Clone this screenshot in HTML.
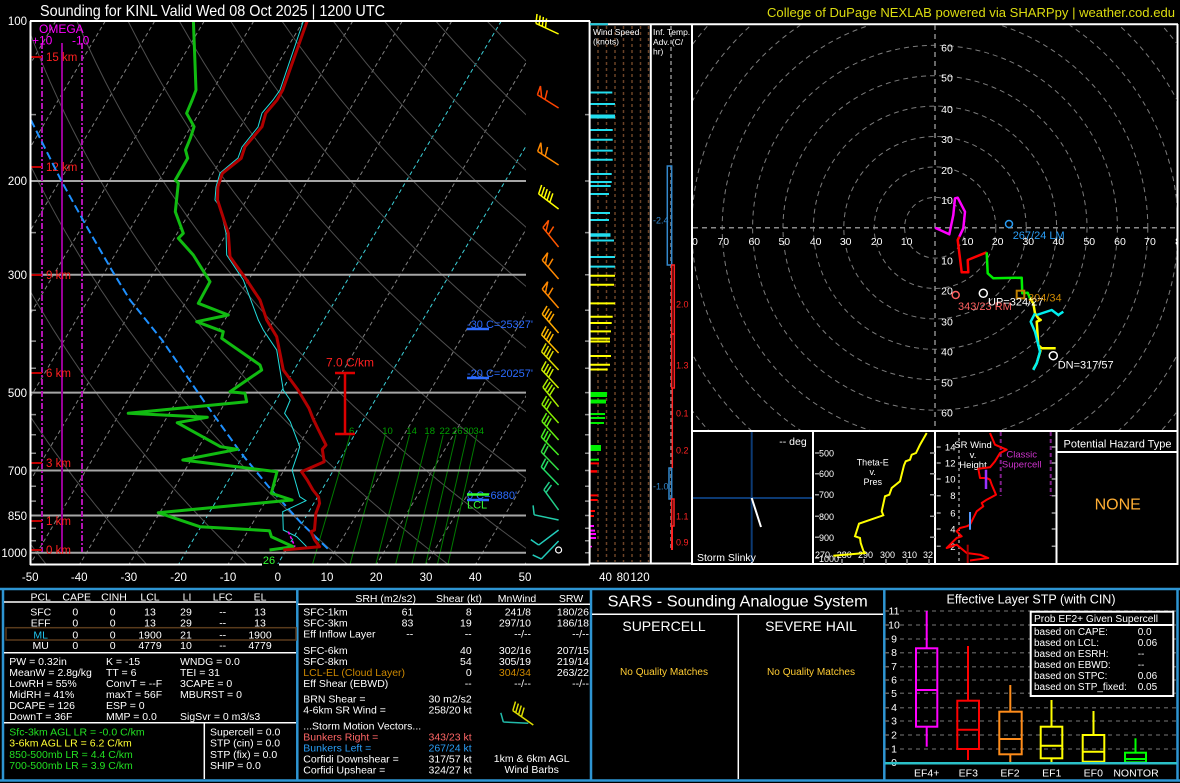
<!DOCTYPE html>
<html><head><meta charset="utf-8">
<style>
html,body{margin:0;padding:0;background:#000;}
svg{display:block}
text{font-family:"Liberation Sans",Arial,sans-serif;}
</style></head>
<body>
<svg xmlns="http://www.w3.org/2000/svg" xmlns:xlink="http://www.w3.org/1999/xlink" width="1180" height="783" viewBox="0 0 1180 783">
<defs>
 <clipPath id="skc"><rect x="31" y="22" width="495" height="542"/></clipPath>
 <clipPath id="hc"><rect x="693" y="25" width="484" height="405"/></clipPath>
 <g id="b1" fill="none"><path d="M0,0H-25M-25,0l-3,-9"/></g>
 <g id="b2" fill="none"><path d="M0,0H-25M-25,0l-3,-9M-21.5,0l-3,-9"/></g>
 <g id="b3" fill="none"><path d="M0,0H-25M-25,0l-3,-9M-21.5,0l-3,-9M-18,0l-3,-9"/></g>
 <g id="b4" fill="none"><path d="M0,0H-25M-25,0l-3,-9M-21.5,0l-3,-9M-18,0l-3,-9M-14.5,0l-3,-9"/></g>
 <g id="b5" fill="none"><path d="M0,0H-25M-25,0l-3,-9M-21.5,0l-3,-9M-18,0l-3,-9M-14.5,0l-3,-9M-11,0l-3,-9"/></g>
 <g id="f1" fill="none"><path d="M0,0H-25M-25,0L-27,-9L-20,0M-16,0l-3,-9"/></g>
</defs>
<rect width="1180" height="783" fill="#000"/>

<!-- ===== SKEW-T BACKGROUND ===== -->
<g clip-path="url(#skc)">
 <g stroke="#808080" stroke-width="1" stroke-dasharray="4,3" fill="none">
  <line x1="55.8" y1="21" x2="-266.7" y2="564"/>
  <line x1="105.3" y1="21" x2="-217.2" y2="564"/>
  <line x1="154.8" y1="21" x2="-167.7" y2="564"/>
  <line x1="204.3" y1="21" x2="-118.2" y2="564"/>
  <line x1="253.8" y1="21" x2="-68.7" y2="564"/>
  <line x1="303.3" y1="21" x2="-19.2" y2="564"/>
  <line x1="352.8" y1="21" x2="30.3" y2="564"/>
  <line x1="402.3" y1="21" x2="79.8" y2="564"/>
  <line x1="451.8" y1="21" x2="129.3" y2="564"/>
  <line x1="550.8" y1="21" x2="228.3" y2="564"/>
  <line x1="649.8" y1="21" x2="327.3" y2="564"/>
  <line x1="699.3" y1="21" x2="376.8" y2="564"/>
  <line x1="748.8" y1="21" x2="426.3" y2="564"/>
  <line x1="798.3" y1="21" x2="475.8" y2="564"/>
  <line x1="847.8" y1="21" x2="525.3" y2="564"/>
 </g>
 <g stroke="#3cd0d8" stroke-width="1" stroke-dasharray="4,3" fill="none">
  <line x1="501.3" y1="21" x2="178.8" y2="564"/>
  <line x1="600.3" y1="21" x2="277.8" y2="564"/>
 </g>
 <g id="dry" stroke="#4e4e4e" stroke-width="1" fill="none"></g>
 <g stroke="#007a00" stroke-width="1" fill="none">
  <line x1="350.2" y1="434.7" x2="312.6" y2="564"/>
  <line x1="385.4" y1="434.7" x2="350.1" y2="564"/>
  <line x1="409.5" y1="434.7" x2="375.9" y2="564"/>
  <line x1="428.1" y1="434.7" x2="395.7" y2="564"/>
  <line x1="443.2" y1="434.7" x2="411.9" y2="564"/>
  <line x1="456.0" y1="434.7" x2="425.7" y2="564"/>
  <line x1="467.1" y1="434.7" x2="437.5" y2="564"/>
  <line x1="476.9" y1="434.7" x2="448.0" y2="564"/>
 </g>
</g>
<g fill="#00a000" font-size="9.5" text-anchor="middle">
 <text x="351.7" y="434">6</text><text x="387.5" y="434">10</text><text x="411.6" y="434">14</text>
 <text x="429.7" y="434">18</text><text x="444.8" y="434">22</text><text x="457.2" y="434">26</text>
 <text x="468.5" y="434">30</text><text x="478.7" y="434">34</text>
</g>
<!-- pressure lines -->
<g stroke="#a6a6a6" stroke-width="2">
 <line x1="31" y1="181" x2="526" y2="181"/>
 <line x1="31" y1="274.7" x2="526" y2="274.7"/>
 <line x1="31" y1="392.6" x2="526" y2="392.6"/>
 <line x1="31" y1="470.5" x2="526" y2="470.5"/>
 <line x1="31" y1="515.5" x2="526" y2="515.5"/>
 <line x1="31" y1="552.7" x2="526" y2="552.7"/>
</g>
<!-- ticks -->
<g stroke="#8c8c8c" stroke-width="1.5">
 <path d="M31,114.6h5M31,232.6h5M31,310.3h5M31,341.1h5M31,368.3h5M31,414.6h5M31,434.7h5M31,453.2h5M31,486.2h5M31,501.1h5M31,528.3h5M31,540.8h5"/>
 <path d="M585,114.6h4M585,181h4M585,232.6h4M585,274.7h4M585,310.3h4M585,341.1h4M585,368.3h4M585,392.6h4M585,414.6h4M585,434.7h4M585,453.2h4M585,470.5h4M585,486.2h4M585,501.1h4M585,515.5h4M585,528.3h4M585,540.8h4M585,552.7h4"/>
</g>
<!-- omega -->
<g fill="none" stroke-width="2">
 <line x1="42" y1="43" x2="42" y2="552" stroke="#b012b0" stroke-dasharray="6,2,2,2"/>
 <line x1="82" y1="43" x2="82" y2="552" stroke="#b012b0" stroke-dasharray="6,2,2,2"/>
 <line x1="62" y1="43" x2="62" y2="552" stroke="#990099"/>
</g>
<g fill="#ff00ff" font-size="12">
 <text x="39" y="33">OMEGA</text>
 <text x="32" y="44.5">+10</text>
 <text x="72" y="44.5">-10</text>
</g>
<!-- height labels -->
<g stroke="#c00000" stroke-width="2">
 <path d="M31,57h11M31,167h11M31,275h11M31,373h11M31,463h11M31,521h11M31,550h11"/>
</g>
<g fill="#ff2020" font-size="11.5">
 <text x="46" y="61">15 km</text>
 <text x="46" y="171">12 km</text>
 <text x="46" y="279">9 km</text>
 <text x="46" y="377">6 km</text>
 <text x="46" y="467">3 km</text>
 <text x="46" y="525">1 km</text>
 <text x="46" y="554">0 km</text>
</g>

<!-- profiles -->
<polyline fill="none" stroke="#1e90ff" stroke-width="2" stroke-dasharray="8,4" points="30.9,120 61.4,181 84.8,223.3 111.7,270 130,300 162,340 205.4,403.3 241.2,453.3 271.4,490 301.5,523.3 329.8,550.7"/>
<polyline fill="none" stroke="#11bb11" stroke-width="3" stroke-linejoin="round" points="193.4,21 196,90 192.2,100 186.6,113.3 194.1,126.7 190.3,138.3 185.5,150 187.7,158.3 175.3,180 178.3,183.3 175.3,211.7 183.3,233.3 178.3,238.3 193.3,255 210,281.7 198.3,303.3 228.3,315 196.7,321.7 223.3,331.7 221.7,338.3 260,365 261.7,370 230,391.7 245,393.3 246.7,401.7 128.2,413.3 207.3,417.3 177.2,422.7 220.5,446.7 237.5,449.3 182.8,460 277,471.7 271.4,493.3 292.1,500 158.3,512.7 199.8,526.7 269.5,530.7 271.4,536.7 293.3,546.7 269.5,550"/>
<polyline fill="none" stroke="#22dddd" stroke-width="1" points="303.4,21 280,90 273,100 262,113 258,127 242,147 238,158 220,173 216,187 215,200 220,206.7 226,233 226.7,255 243.3,280 258.3,320 263.3,330 276.7,350 280,370 283.3,390 290.2,400 284.6,413.3 290.2,421.7 299.7,446.7 297.8,453.3 292.1,470 294,476.7 299.7,496.7 306,500.7 282.7,511.7 283.3,530 296.7,536.7 306.7,546.7"/>
<polyline fill="none" stroke="#b00000" stroke-width="3" stroke-linejoin="round" points="307.2,21 282.7,90 277,100 265.7,113.3 262,126.7 245,146.7 241.2,158.3 222.4,173.3 217.9,186.7 217.5,200 228.3,233.3 230,256.7 246.7,280 260,300 266.7,320 276.7,336.7 283.3,370 298,390 309,408.3 312.9,418.3 318.5,430 326,445 322.3,449.3 324.2,461.7 301.5,471.7 307.2,480 312.9,490 318.5,497 319.6,503.3 315.9,513.3 314.5,530 311,531.7 314.7,540 319.6,546.7 283.3,550"/>
<line x1="288.3" y1="531.7" x2="295" y2="546.7" stroke="#ff00ff" stroke-width="1.5" stroke-dasharray="3,2"/>

<!-- lapse rate bar -->
<g stroke="#dd0000" stroke-width="2.5">
 <line x1="345" y1="373" x2="345" y2="434"/>
 <line x1="335" y1="373" x2="355" y2="373"/>
 <line x1="335" y1="434" x2="355" y2="434"/>
</g>
<text x="350" y="366.5" fill="#ff2020" font-size="12" text-anchor="middle">7.0 C/km</text>
<!-- level labels -->
<g font-size="11" fill="#2b6bff">
 <text x="467" y="328">-30 C=25327'</text>
 <text x="467" y="377">-20 C=20257'</text>
 <text x="467" y="499">0 C=6880'</text>
</g>
<g stroke="#2b6bff" stroke-width="2.5">
 <line x1="467" y1="329" x2="489" y2="329"/>
 <line x1="467" y1="378" x2="489" y2="378"/>
 <line x1="467" y1="500" x2="489" y2="500"/>
</g>
<line x1="467" y1="494.5" x2="489" y2="494.5" stroke="#33ff33" stroke-width="2.5"/>
<text x="467" y="508.5" fill="#33ff33" font-size="11">LCL</text>

<!-- wind barbs -->
<g stroke-width="1.5">
 <use xlink:href="#b4" href="#b4" transform="translate(558.6,34) rotate(25)" stroke="#ffff00"/>
 <use xlink:href="#f1" href="#f1" transform="translate(558.6,108) rotate(32)" stroke="#ff4400"/>
 <use xlink:href="#f1" href="#f1" transform="translate(558.6,165) rotate(33)" stroke="#ff8800"/>
 <use xlink:href="#b5" href="#b5" transform="translate(558.6,209) rotate(37)" stroke="#ffff00"/>
 <use xlink:href="#f1" href="#f1" transform="translate(558.6,247) rotate(51)" stroke="#ff5500"/>
 <use xlink:href="#f1" href="#f1" transform="translate(558.6,279) rotate(49)" stroke="#ff8800"/>
 <use xlink:href="#f1" href="#f1" transform="translate(558.6,308) rotate(49)" stroke="#ff8800"/>
 <use xlink:href="#b4" href="#b4" transform="translate(558.6,333) rotate(49)" stroke="#ffaa00"/>
 <use xlink:href="#b4" href="#b4" transform="translate(558.6,353) rotate(47)" stroke="#ffbb00"/>
 <use xlink:href="#b4" href="#b4" transform="translate(558.6,370) rotate(47)" stroke="#dddd00"/>
 <use xlink:href="#b4" href="#b4" transform="translate(558.6,388) rotate(47)" stroke="#ccee00"/>
 <use xlink:href="#b4" href="#b4" transform="translate(558.6,406.7) rotate(51)" stroke="#aaee00"/>
 <use xlink:href="#b3" href="#b3" transform="translate(558.6,423) rotate(48)" stroke="#88ee00"/>
 <use xlink:href="#b3" href="#b3" transform="translate(558.6,440) rotate(48)" stroke="#66ee11"/>
 <use xlink:href="#b3" href="#b3" transform="translate(558.6,455) rotate(46)" stroke="#44ee22"/>
 <use xlink:href="#b2" href="#b2" transform="translate(558.6,470) rotate(46)" stroke="#33dd44"/>
 <use xlink:href="#b2" href="#b2" transform="translate(558.6,485) rotate(46)" stroke="#22dd66"/>
 <use xlink:href="#b2" href="#b2" transform="translate(558.6,510) rotate(54)" stroke="#22cc88"/>
 <use xlink:href="#b1" href="#b1" transform="translate(558.6,520) rotate(12)" stroke="#22ccaa"/>
 <use xlink:href="#b1" href="#b1" transform="translate(558.6,530) rotate(-37)" stroke="#22ccbb"/>
 <use xlink:href="#b1" href="#b1" transform="translate(558.6,541) rotate(-46)" stroke="#22ccbb"/>
</g>
<circle cx="558.6" cy="550" r="3" fill="none" stroke="#fff" stroke-width="1.2"/>

<!-- frame -->
<g stroke="#fff" stroke-width="2" fill="none">
 <line x1="30" y1="21" x2="590" y2="21"/>
 <line x1="30.5" y1="21" x2="30.5" y2="565"/>
 <line x1="30" y1="564.5" x2="262" y2="564.5"/>
 <line x1="279" y1="564.5" x2="590" y2="564.5"/>
 <line x1="589.6" y1="21" x2="589.6" y2="564"/>
 <line x1="590" y1="24.3" x2="1178" y2="24.3"/>
 <line x1="650.8" y1="24" x2="650.8" y2="564"/>
 <line x1="692" y1="24" x2="692" y2="565"/>
 <line x1="589.6" y1="563.5" x2="692" y2="563.5"/>
 <line x1="1177.5" y1="24" x2="1177.5" y2="565"/>
 <line x1="692" y1="431" x2="1178" y2="431"/>
 <line x1="692" y1="564" x2="1178" y2="564"/>
 <line x1="813" y1="431" x2="813" y2="564"/>
 <line x1="935" y1="431" x2="935" y2="564"/>
 <line x1="1056.5" y1="431" x2="1056.5" y2="564"/>
 <line x1="1056.5" y1="452" x2="1178" y2="452"/>
</g>
<text x="269" y="564" fill="#33ff33" font-size="11" text-anchor="middle">26</text>

<!-- titles -->
<text x="40" y="16" font-size="16" fill="#fff" textLength="345" lengthAdjust="spacingAndGlyphs">Sounding for KINL Valid  Wed 08 Oct 2025 | 1200 UTC</text>
<text x="767" y="17" font-size="13" fill="#dcdc10" font-family="DejaVu Sans, sans-serif" textLength="408" lengthAdjust="spacingAndGlyphs">College of DuPage NEXLAB powered via SHARPpy | weather.cod.edu</text>

<!-- axis labels -->
<g fill="#fff" font-size="11.5" text-anchor="end">
 <text x="27" y="25">100</text>
 <text x="27" y="185">200</text>
 <text x="27" y="279">300</text>
 <text x="27" y="397">500</text>
 <text x="27" y="475">700</text>
 <text x="27" y="520">850</text>
 <text x="27" y="557">1000</text>
</g>
<g fill="#fff" font-size="11.5" text-anchor="middle">
 <text x="30.2" y="581">-50</text><text x="79.2" y="581">-40</text><text x="128.8" y="581">-30</text>
 <text x="178.6" y="581">-20</text><text x="228" y="581">-10</text><text x="277.8" y="581">0</text>
 <text x="327" y="581">10</text><text x="376.1" y="581">20</text><text x="426" y="581">30</text>
 <text x="475.3" y="581">40</text><text x="525" y="581">50</text>
 <text x="605.5" y="581">40</text><text x="623" y="581">80</text><text x="640" y="581">120</text>
</g>

<!-- ===== WIND SPEED PANEL ===== -->
<line x1="590" y1="24.3" x2="608" y2="24.3" stroke="#22ccdd" stroke-width="2"/>
<g stroke="#6b4226" stroke-width="1.5" stroke-dasharray="3,3">
 <line x1="598" y1="26" x2="598" y2="562"/><line x1="606.5" y1="26" x2="606.5" y2="562"/>
 <line x1="615" y1="26" x2="615" y2="562"/><line x1="623.5" y1="26" x2="623.5" y2="562"/>
 <line x1="632" y1="26" x2="632" y2="562"/><line x1="640.5" y1="26" x2="640.5" y2="562"/>
 <line x1="648.5" y1="26" x2="648.5" y2="562"/>
</g>
<g fill="#fff" font-size="8.5">
 <text x="593" y="35">Wind Speed</text>
 <text x="593" y="44.5">(knots)</text>
 <text x="653" y="35">Inf. Temp.</text>
 <text x="653" y="45">Adv. (C/</text>
 <text x="653" y="54.5">hr)</text>
</g>
<g stroke="#22ddee" stroke-width="2">
 <line x1="590.5" y1="92.5" x2="612.3" y2="92.5"/><line x1="590.5" y1="104" x2="615" y2="104"/>
 <line x1="590.5" y1="116.5" x2="615" y2="116.5" stroke-width="4"/><line x1="590.5" y1="130" x2="612.7" y2="130"/>
 <line x1="590.5" y1="139.7" x2="612.7" y2="139.7"/><line x1="590.5" y1="150.6" x2="612.7" y2="150.6"/>
 <line x1="590.5" y1="159.7" x2="612.7" y2="159.7"/><line x1="590.5" y1="174" x2="611.7" y2="174"/>
 <line x1="590.5" y1="182" x2="611.7" y2="182"/><line x1="590.5" y1="186" x2="610.7" y2="186"/>
 <line x1="590.5" y1="194" x2="609" y2="194"/><line x1="590.5" y1="213" x2="610" y2="213"/>
 <line x1="590.5" y1="220" x2="609" y2="220"/><line x1="590.5" y1="235" x2="610.5" y2="235" stroke-width="3.5"/>
 <line x1="590.5" y1="240.5" x2="614" y2="240.5"/><line x1="590.5" y1="257" x2="615" y2="257"/>
 <line x1="590.5" y1="266.6" x2="615" y2="266.6"/>
</g>
<g stroke="#ffff00" stroke-width="2">
 <line x1="590.5" y1="275.7" x2="615" y2="275.7"/><line x1="590.5" y1="284.8" x2="614" y2="284.8"/>
 <line x1="590.5" y1="303.4" x2="615" y2="303.4"/><line x1="590.5" y1="316.8" x2="612.7" y2="316.8"/>
 <line x1="590.5" y1="323" x2="611.7" y2="323"/><line x1="590.5" y1="331.4" x2="611" y2="331.4"/>
 <line x1="590.5" y1="338.6" x2="610" y2="338.6"/><line x1="590.5" y1="341.5" x2="610" y2="341.5"/>
 <line x1="590.5" y1="356" x2="611" y2="356"/><line x1="590.5" y1="364.8" x2="610" y2="364.8"/>
 <line x1="590.5" y1="369.5" x2="607.7" y2="369.5"/>
</g>
<g stroke="#00ee00" stroke-width="2">
 <line x1="590.5" y1="394.5" x2="607" y2="394.5" stroke-width="5"/><line x1="590.5" y1="401.5" x2="606" y2="401.5" stroke-width="4"/>
 <line x1="590.5" y1="414" x2="605" y2="414"/><line x1="590.5" y1="418" x2="605" y2="418"/>
 <line x1="590.5" y1="423" x2="604" y2="423"/><line x1="590.5" y1="448" x2="601" y2="448" stroke-width="6"/>
 <line x1="590.5" y1="459.7" x2="599" y2="459.7"/>
</g>
<g stroke="#ff0000" stroke-width="2">
 <line x1="590.5" y1="463.4" x2="599" y2="463.4"/><line x1="590.5" y1="471.4" x2="597" y2="471.4" stroke-width="2.5"/>
 <line x1="590.5" y1="495.4" x2="597.7" y2="495.4"/><line x1="590.5" y1="500" x2="597.7" y2="500"/>
 <line x1="590.5" y1="511" x2="595" y2="511"/><line x1="590.5" y1="516" x2="594" y2="516"/>
</g>
<g stroke="#ff00ff" stroke-width="2">
 <line x1="590.5" y1="526" x2="594" y2="526"/><line x1="590.5" y1="530.6" x2="595" y2="530.6"/>
 <line x1="590.5" y1="534" x2="596" y2="534"/><line x1="590.5" y1="538" x2="596" y2="538"/>
 <line x1="590.5" y1="546.6" x2="592" y2="546.6" stroke-width="1.5"/>
</g>

<!-- ===== INF TEMP ADV ===== -->
<line x1="671" y1="26" x2="671" y2="550" stroke="#8c8c8c" stroke-width="1.5" stroke-dasharray="4,3"/>
<g fill="none" stroke-width="1.5">
 <rect x="667.3" y="166" width="4.4" height="99" stroke="#3388cc"/>
 <rect x="669" y="468" width="2.7" height="31" stroke="#3388cc"/>
 <rect x="671.7" y="265" width="2.6" height="69" stroke="#ff2222"/>
 <rect x="671.7" y="334" width="2.6" height="54" stroke="#ff2222"/>
 <line x1="672.3" y1="388" x2="672.3" y2="468" stroke="#ff2222"/>
 <rect x="671.7" y="499" width="2.3" height="27" stroke="#ff2222"/>
 <line x1="672" y1="526" x2="672" y2="550" stroke="#ff2222" stroke-width="2"/>
</g>
<g font-size="9">
 <text x="653" y="223.5" fill="#3388cc">-2.4</text>
 <text x="653" y="489.5" fill="#3388cc">-1.0</text>
 <g fill="#ff2222">
  <text x="676" y="307.5">2.0</text><text x="676" y="368.5">1.3</text>
  <text x="676" y="416.5">0.1</text><text x="676" y="453.5">0.2</text>
  <text x="676" y="519.5">1.1</text><text x="676" y="545.5">0.9</text>
 </g>
</g>

<!-- ===== HODOGRAPH ===== -->
<g clip-path="url(#hc)">
 <g fill="none" stroke="#7c7c7c" stroke-width="1" stroke-dasharray="5,4">
  <circle cx="935" cy="227.7" r="30.4"/><circle cx="935" cy="227.7" r="60.8"/>
  <circle cx="935" cy="227.7" r="91.2"/><circle cx="935" cy="227.7" r="121.6"/>
  <circle cx="935" cy="227.7" r="152"/><circle cx="935" cy="227.7" r="182.4"/>
  <circle cx="935" cy="227.7" r="212.8"/><circle cx="935" cy="227.7" r="243.2"/>
  <circle cx="935" cy="227.7" r="273.6"/><circle cx="935" cy="227.7" r="304"/>
  <circle cx="935" cy="227.7" r="334.4"/>
 </g>
 <g stroke="#8a8a8a" stroke-width="1.5" stroke-dasharray="5,4">
  <line x1="693" y1="227.7" x2="1177" y2="227.7"/>
  <line x1="935" y1="25" x2="935" y2="430"/>
 </g>
 <g fill="#fff" font-size="10.5" text-anchor="middle">
  <text x="947" y="204">10</text><text x="947" y="174">20</text><text x="947" y="143">30</text>
  <text x="947" y="113">40</text><text x="947" y="81.7">50</text><text x="947" y="51.7">60</text>
  <text x="947" y="264.7">10</text><text x="947" y="294.7">20</text><text x="947" y="325.7">30</text>
  <text x="947" y="355.7">40</text><text x="947" y="386.7">50</text><text x="947" y="416.7">60</text>
  <text x="906.7" y="245">10</text><text x="876.7" y="245">20</text><text x="845.7" y="245">30</text>
  <text x="815.7" y="245">40</text><text x="784.3" y="245">50</text><text x="754.3" y="245">60</text>
  <text x="723.3" y="245">70</text><text x="692" y="245">80</text>
  <text x="967.7" y="245">10</text><text x="997.7" y="245">20</text><text x="1028.3" y="245">30</text>
  <text x="1058.3" y="245">40</text><text x="1089.3" y="245">50</text><text x="1120" y="245">60</text>
  <text x="1150" y="245">70</text><text x="1181" y="245">80</text>
 </g>
</g>
<g fill="none" stroke-width="2.5" stroke-linejoin="round">
 <polyline stroke="#ff00ff" points="935,227.7 949.3,234.3 953.3,215 955,198.3 957.7,197.7 965,211.7 963.3,228.3 959.3,236.7"/>
 <polyline stroke="#ff0000" points="959.3,236.7 957.7,240 961.7,272.3 968.3,272.3 967.7,260 986.7,252.3"/>
 <polyline stroke="#00ee00" points="986.7,252.3 987.7,273.3 993.3,278.3 1021.7,277.7 1022.3,293.3 1027.7,292.7 1030,298.3"/>
 <polyline stroke="#ffff00" points="1030,298.3 1033.3,303.3 1035,313.3 1038.3,318.3 1040.7,320 1036.7,321.7 1038.3,345 1041.7,348.3 1055.7,348.3"/>
 <polyline stroke="#ffff00" points="1040.7,350 1036.7,363.3 1033.3,369.3"/>
 <polyline stroke="#00eeee" points="1035,313.3 1030.7,321.7 1035,331.7 1040,351.7 1036.7,363.3 1033.3,370"/>
 <polyline stroke="#00eeee" points="1036.7,315 1051.7,310 1058.3,315 1063.3,311.7"/>
</g>
<rect x="1016.7" y="290.7" width="7.6" height="7.6" fill="none" stroke="#c08000" stroke-width="2"/>
<g fill="none" stroke-width="1.5">
 <circle cx="1009" cy="224" r="3.5" stroke="#2a9df4"/>
 <circle cx="955.7" cy="295" r="3.5" stroke="#ff6060"/>
 <circle cx="983.3" cy="293.3" r="4" stroke="#fff"/>
 <circle cx="1053.3" cy="355.7" r="4" stroke="#fff"/>
</g>
<g font-size="11">
 <text x="1012.7" y="239" fill="#2a9df4">267/24 LM</text>
 <text x="958" y="310" fill="#ff6060">343/23 RM</text>
 <text x="988" y="305.7" fill="#fff">UP=324/27</text>
 <text x="1028" y="301.7" fill="#cc8800">304/34</text>
 <text x="1057.7" y="368.3" fill="#fff">DN=317/57</text>
</g>

<!-- ===== INSETS ===== -->
<!-- storm slinky -->
<g stroke="#0c3a73" stroke-width="2">
 <line x1="751.7" y1="432" x2="751.7" y2="563"/>
 <line x1="693" y1="498" x2="812" y2="498"/>
</g>
<line x1="751.7" y1="498" x2="761" y2="527" stroke="#fff" stroke-width="2"/>
<text x="806.7" y="445" fill="#fff" font-size="10.5" text-anchor="end">-- deg</text>
<text x="697" y="561" fill="#fff" font-size="10.5">Storm Slinky</text>
<!-- theta-e -->
<g stroke="#9a9a9a" stroke-width="1.5">
 <path d="M815,453h4M815,473.7h4M815,494.7h4M815,516.3h4M815,537.3h4M815,558h4"/>
 <path d="M930,453h5M930,473.7h5M930,494.7h5M930,516.3h5M930,537.3h5"/>
 <path d="M842,559v5M864,559v5M886,559v5M907,559v5M929,559v5"/>
</g>
<g fill="#fff" font-size="9">
 <text x="819" y="456.5">500</text><text x="819" y="477.2">600</text><text x="819" y="498.2">700</text>
 <text x="819" y="519.8">800</text><text x="819" y="540.8">900</text><text x="819" y="562">1000</text>
 <text x="815" y="558">270</text><text x="836.7" y="558">280</text><text x="858" y="558">290</text>
 <text x="880" y="558">300</text><text x="902" y="558">310</text><text x="923" y="558">32</text>
 <g text-anchor="middle"><text x="872.7" y="465.5">Theta-E</text><text x="872.7" y="475">v.</text><text x="872.7" y="485">Pres</text></g>
</g>
<polyline fill="none" stroke="#ffff00" stroke-width="2" points="926.7,433 920,444.7 916,453 911.7,454.7 910,459.7 905.7,461.3 904,465.3 900,481.3 891.7,488 889.3,494.7 885,496.3 881.7,511.3 883.3,515.3 859,523.7 855,536.3 860,538 860.7,543 863.3,550.7 865,553 833.3,555.7"/>
<!-- SR wind -->
<g stroke="#9a9a9a" stroke-width="1.5">
 <path d="M936.7,447h4M936.7,463h4M936.7,479h4M936.7,495.7h4M936.7,513h4M936.7,529h4M936.7,546.3h4"/>
 <path d="M1051.7,447h4M1051.7,463h4M1051.7,479h4M1051.7,495.7h4M1051.7,513h4M1051.7,529h4M1051.7,546.3h4"/>
</g>
<line x1="959" y1="432" x2="959" y2="563" stroke="#999" stroke-width="1.5" stroke-dasharray="3,3"/>
<g stroke="#80208a" stroke-width="2" stroke-dasharray="4,3">
 <line x1="1000.7" y1="432" x2="1000.7" y2="496"/>
 <line x1="1050.7" y1="432" x2="1050.7" y2="496"/>
</g>
<g fill="#fff" font-size="9.5">
 <g text-anchor="end">
  <text x="955.5" y="450.5">14</text><text x="955.5" y="466.5">12</text><text x="955.5" y="482.5">10</text>
  <text x="955.5" y="499.2">8</text><text x="955.5" y="516.5">6</text><text x="955.5" y="532.5">4</text>
  <text x="955.5" y="549.8">2</text>
 </g>
 <g text-anchor="middle"><text x="973" y="448">SR Wind</text><text x="973" y="458">v.</text><text x="973" y="468">Height</text></g>
</g>
<g fill="#cc33cc" font-size="9.5" text-anchor="middle">
 <text x="1021.7" y="457.5">Classic</text><text x="1021.7" y="467.5">Supercell</text>
</g>
<polyline fill="none" stroke="#ff0000" stroke-width="2" stroke-linejoin="round" points="990,433 995,444.7 1006.7,449.7 1000,453 995,461.3 990,467.3 978.3,468.7 980,478 986.7,478 990,479.7 991.7,484.7 996,494.7 986.7,499.7 981.7,503 983.3,506.3 976.7,511.3 970,524.7 966.7,526.3 960,528 956.7,531.3 961.7,536.3 956.7,538 953.3,541.3 946.7,548 956.7,544.7 966.7,553 980,554.7 988.3,558 970,560.5"/>
<line x1="986" y1="469.7" x2="986" y2="489" stroke="#9933ff" stroke-width="2.5"/>
<line x1="970" y1="512" x2="970" y2="529.7" stroke="#5599ff" stroke-width="2"/>
<line x1="967.7" y1="544.7" x2="967.7" y2="563" stroke="#aa0000" stroke-width="2"/>
<!-- hazard -->
<text x="1117.5" y="447.5" fill="#fff" font-size="11" text-anchor="middle">Potential Hazard Type</text>
<text x="1117.7" y="509.5" fill="#ffae34" font-size="16" text-anchor="middle">NONE</text>

<!-- ===== BOTTOM PANELS ===== -->
<g stroke="#2e95d3" stroke-width="2.5" fill="none">
 <line x1="0" y1="589" x2="1180" y2="589"/>
 <line x1="0" y1="780.5" x2="1180" y2="780.5"/>
 <line x1="3" y1="589" x2="3" y2="781"/>
 <line x1="297.3" y1="589" x2="297.3" y2="781"/>
 <line x1="591" y1="589" x2="591" y2="781"/>
 <line x1="884.3" y1="589" x2="884.3" y2="781"/>
 <line x1="1177.5" y1="589" x2="1177.5" y2="781"/>
</g>
<!-- panel 1 -->
<g stroke="#fff" stroke-width="1.5">
 <line x1="4" y1="602" x2="296" y2="602"/>
 <line x1="4" y1="652.7" x2="296" y2="652.7"/>
 <line x1="4" y1="722.7" x2="296" y2="722.7"/>
 <line x1="204.3" y1="722.7" x2="204.3" y2="779"/>
</g>
<rect x="6" y="627.7" width="290" height="12.3" fill="none" stroke="#5a3b1c" stroke-width="1.5"/>
<g fill="#fff" font-size="10.5" text-anchor="middle">
 <text x="40.7" y="600.5">PCL</text><text x="76.7" y="600.5">CAPE</text><text x="114" y="600.5">CINH</text>
 <text x="150" y="600.5">LCL</text><text x="187" y="600.5">LI</text><text x="222.7" y="600.5">LFC</text><text x="260" y="600.5">EL</text>
 <text x="40.7" y="615.5">SFC</text><text x="75.3" y="615.5">0</text><text x="112.7" y="615.5">0</text><text x="150" y="615.5">13</text><text x="186" y="615.5">29</text><text x="222.7" y="615.5">--</text><text x="260" y="615.5">13</text>
 <text x="40.7" y="626.3">EFF</text><text x="75.3" y="626.3">0</text><text x="112.7" y="626.3">0</text><text x="150" y="626.3">13</text><text x="186" y="626.3">29</text><text x="222.7" y="626.3">--</text><text x="260" y="626.3">13</text>
 <text x="40.7" y="638.3" fill="#22c4ee">ML</text><text x="75.3" y="638.3">0</text><text x="112.7" y="638.3">0</text><text x="150" y="638.3">1900</text><text x="186" y="638.3">21</text><text x="222.7" y="638.3">--</text><text x="260" y="638.3">1900</text>
 <text x="40.7" y="649">MU</text><text x="75.3" y="649">0</text><text x="112.7" y="649">0</text><text x="150" y="649">4779</text><text x="186" y="649">10</text><text x="222.7" y="649">--</text><text x="260" y="649">4779</text>
</g>
<g fill="#fff" font-size="10.5">
 <text x="9.3" y="665">PW = 0.32in</text><text x="9.3" y="676">MeanW = 2.8g/kg</text><text x="9.3" y="687">LowRH = 55%</text>
 <text x="9.3" y="698">MidRH = 41%</text><text x="9.3" y="709">DCAPE = 126</text><text x="9.3" y="720">DownT = 36F</text>
 <text x="106" y="665">K = -15</text><text x="106" y="676">TT = 6</text><text x="106" y="687">ConvT = --F</text>
 <text x="106" y="698">maxT = 56F</text><text x="106" y="709">ESP = 0</text><text x="106" y="720">MMP = 0.0</text>
 <text x="180" y="665">WNDG = 0.0</text><text x="180" y="676">TEI = 31</text><text x="180" y="687">3CAPE = 0</text>
 <text x="180" y="698">MBURST = 0</text><text x="180" y="720">SigSvr = 0 m3/s3</text>
 <text x="210" y="735.5">Supercell = 0.0</text><text x="210" y="746.7">STP (cin) = 0.0</text>
 <text x="210" y="757.8">STP (fix) = 0.0</text><text x="210" y="769">SHIP = 0.0</text>
</g>
<g font-size="10.5">
 <text x="9.3" y="735.5" fill="#22e022">Sfc-3km AGL LR = -0.0 C/km</text>
 <text x="9.3" y="746.7" fill="#ffff33">3-6km AGL LR = 6.2 C/km</text>
 <text x="9.3" y="757.8" fill="#22e022">850-500mb LR = 4.4 C/km</text>
 <text x="9.3" y="769" fill="#22e022">700-500mb LR = 3.9 C/km</text>
</g>
<!-- panel 2 -->
<line x1="298" y1="604.3" x2="590" y2="604.3" stroke="#fff" stroke-width="1.5"/>
<g fill="#fff" font-size="10.5" text-anchor="middle">
 <text x="385.7" y="602">SRH (m2/s2)</text><text x="459" y="602">Shear (kt)</text>
 <text x="517" y="602">MnWind</text><text x="571" y="602">SRW</text>
</g>
<g fill="#fff" font-size="10.5">
 <text x="303.3" y="615.7">SFC-1km</text><text x="303.3" y="626.7">SFC-3km</text><text x="303.3" y="637.5">Eff Inflow Layer</text>
 <text x="303.3" y="654">SFC-6km</text><text x="303.3" y="665">SFC-8km</text>
 <text x="303.3" y="676" fill="#cc8800">LCL-EL (Cloud Layer)</text>
 <text x="303.3" y="687">Eff Shear (EBWD)</text>
 <text x="303.3" y="702.7">BRN Shear =</text><text x="303.3" y="713.7">4-6km SR Wind =</text>
 <text x="303.3" y="729.3">...Storm Motion Vectors...</text>
 <text x="303.3" y="740.7" fill="#ff6666">Bunkers Right =</text>
 <text x="303.3" y="751.7" fill="#2a9df4">Bunkers Left =</text>
 <text x="303.3" y="762.7">Corfidi Downshear =</text><text x="303.3" y="773.3">Corfidi Upshear =</text>
</g>
<g fill="#fff" font-size="10.5" text-anchor="end">
 <text x="413.3" y="615.7">61</text><text x="413.3" y="626.7">83</text><text x="413.3" y="637.5">--</text>
 <text x="471.7" y="615.7">8</text><text x="471.7" y="626.7">19</text><text x="471.7" y="637.5">--</text>
 <text x="471.7" y="654">40</text><text x="471.7" y="665">54</text><text x="471.7" y="676">0</text><text x="471.7" y="687">--</text>
 <text x="531" y="615.7">241/8</text><text x="531" y="626.7">297/10</text><text x="531" y="637.5">--/--</text>
 <text x="531" y="654">302/16</text><text x="531" y="665">305/19</text><text x="531" y="676" fill="#cc8800">304/34</text><text x="531" y="687">--/--</text>
 <text x="589" y="615.7">180/26</text><text x="589" y="626.7">186/18</text><text x="589" y="637.5">--/--</text>
 <text x="589" y="654">207/15</text><text x="589" y="665">219/14</text><text x="589" y="676">263/22</text><text x="589" y="687">--/--</text>
 <text x="471.7" y="702.7">30 m2/s2</text><text x="471.7" y="713.7">258/20 kt</text>
 <text x="471.7" y="740.7" fill="#ff6666">343/23 kt</text><text x="471.7" y="751.7" fill="#2a9df4">267/24 kt</text>
 <text x="471.7" y="762.7">317/57 kt</text><text x="471.7" y="773.3">324/27 kt</text>
</g>
<g fill="#fff" font-size="10.5" text-anchor="middle">
 <text x="531.7" y="762">1km &amp; 6km AGL</text><text x="531.7" y="773">Wind Barbs</text>
</g>
<g stroke-width="1.5">
 <use xlink:href="#b4" href="#b4" transform="translate(533.3,725) rotate(35)" stroke="#dddd00"/>
 <use xlink:href="#b1" href="#b1" transform="translate(528.3,723.3) rotate(3)" stroke="#22bbaa"/>
</g>
<!-- panel 3 SARS -->
<text x="737.7" y="606.5" fill="#fff" font-size="16" text-anchor="middle" textLength="260" lengthAdjust="spacingAndGlyphs">SARS - Sounding Analogue System</text>
<g stroke="#fff" stroke-width="1.5">
 <line x1="592" y1="614.3" x2="883" y2="614.3"/>
 <line x1="738.3" y1="614.3" x2="738.3" y2="779"/>
</g>
<g fill="#fff" font-size="14" text-anchor="middle">
 <text x="664" y="631">SUPERCELL</text><text x="811" y="631">SEVERE HAIL</text>
</g>
<g fill="#ffcc33" font-size="10" text-anchor="middle">
 <text x="664" y="675" textLength="88" lengthAdjust="spacingAndGlyphs">No Quality Matches</text>
 <text x="811" y="675" textLength="88" lengthAdjust="spacingAndGlyphs">No Quality Matches</text>
</g>
<!-- panel 4 STP -->
<text x="1031" y="603.5" fill="#fff" font-size="13" text-anchor="middle" textLength="169" lengthAdjust="spacingAndGlyphs">Effective Layer STP (with CIN)</text>
<g stroke="#505050" stroke-width="1.5" stroke-dasharray="4,4">
 <path d="M900,611H1176M900,625H1176M900,639H1176M900,652.7H1176M900,666.7H1176M900,680H1176M900,693.3H1176M900,707.7H1176M900,721H1176M900,735H1176M900,749H1176"/>
</g>
<g stroke="#666" stroke-width="1.5">
 <path d="M885,611h4M885,625h4M885,639h4M885,652.7h4M885,666.7h4M885,680h4M885,693.3h4M885,707.7h4M885,721h4M885,735h4M885,749h4"/>
</g>
<g fill="#fff" font-size="10.5" text-anchor="middle">
 <text x="894" y="614.5">11</text><text x="894" y="628.5">10</text><text x="894" y="642.5">9</text>
 <text x="894" y="656.2">8</text><text x="894" y="670.2">7</text><text x="894" y="683.5">6</text>
 <text x="894" y="696.8">5</text><text x="894" y="711.2">4</text><text x="894" y="724.5">3</text>
 <text x="894" y="738.5">2</text><text x="894" y="752.5">1</text><text x="894" y="766.2">0</text>
</g>
<g fill="none" stroke-width="2">
 <g stroke="#ff00ff">
  <line x1="926.7" y1="611" x2="926.7" y2="648.3"/><line x1="926.7" y1="726.7" x2="926.7" y2="746.7"/>
  <rect x="916" y="648.3" width="21.3" height="78.4"/><line x1="916" y1="690" x2="937.3" y2="690"/>
 </g>
 <g stroke="#ff0000">
  <line x1="968" y1="646" x2="968" y2="700.7"/><line x1="968" y1="749" x2="968" y2="760"/>
  <rect x="957.3" y="700.7" width="21.7" height="48.3"/><line x1="957.3" y1="729.7" x2="979" y2="729.7"/>
 </g>
 <g stroke="#ff8c1a">
  <line x1="1010.3" y1="685" x2="1010.3" y2="711.7"/><line x1="1010.3" y1="754.3" x2="1010.3" y2="763"/>
  <rect x="999.3" y="711.7" width="22.4" height="42.6"/><line x1="999.3" y1="739" x2="1021.7" y2="739"/>
 </g>
 <g stroke="#ffff00">
  <line x1="1051.5" y1="700" x2="1051.5" y2="726.7"/><line x1="1051.5" y1="758.3" x2="1051.5" y2="763"/>
  <rect x="1040.7" y="726.7" width="21.6" height="31.6"/><line x1="1040.7" y1="745.7" x2="1062.3" y2="745.7"/>
  <line x1="1093.5" y1="711" x2="1093.5" y2="735"/>
  <rect x="1082.7" y="735" width="21.6" height="26.7"/><line x1="1082.7" y1="751.7" x2="1104.3" y2="751.7"/>
 </g>
 <g stroke="#00ff00">
  <line x1="1135.5" y1="738.3" x2="1135.5" y2="752.7"/>
  <rect x="1125" y="752.7" width="21" height="9.6"/><line x1="1125" y1="759" x2="1146" y2="759"/>
 </g>
</g>
<line x1="885" y1="763.3" x2="1177" y2="763.3" stroke="#2bc0c8" stroke-width="2.5"/>
<g fill="#fff" font-size="10.5" text-anchor="middle">
 <text x="926.7" y="776.5">EF4+</text><text x="968.3" y="776.5">EF3</text><text x="1010" y="776.5">EF2</text>
 <text x="1051.7" y="776.5">EF1</text><text x="1093.3" y="776.5">EF0</text><text x="1136" y="776.5">NONTOR</text>
</g>
<rect x="1030.7" y="611.7" width="142.6" height="84.3" fill="#000" stroke="#fff" stroke-width="2"/>
<line x1="1030.7" y1="625" x2="1173.3" y2="625" stroke="#fff" stroke-width="2"/>
<g fill="#fff" font-size="10">
 <text x="1034" y="622" textLength="124" lengthAdjust="spacingAndGlyphs">Prob EF2+ Given Supercell</text>
 <text x="1034" y="635">based on CAPE:</text><text x="1137.7" y="635">0.0</text>
 <text x="1034" y="646">based on LCL:</text><text x="1137.7" y="646">0.06</text>
 <text x="1034" y="657">based on ESRH:</text><text x="1137.7" y="657">--</text>
 <text x="1034" y="668">based on EBWD:</text><text x="1137.7" y="668">--</text>
 <text x="1034" y="679">based on STPC:</text><text x="1137.7" y="679">0.06</text>
 <text x="1034" y="690">based on STP_fixed:</text><text x="1137.7" y="690">0.05</text>
</g>
</svg>
<script>
(function(){
 var g=document.getElementById('dry');
 if(!g)return;
 var ns='http://www.w3.org/2000/svg';
 for(var t0=-50;t0<=210;t0+=20){
  var th=t0+273.15,pts=[];
  for(var p=100;p<=1050;p+=10){
   var y=21+230.9*Math.log(p/100);
   var T=th*Math.pow(p/1000,0.2857)-273.15;
   var x=612.8+4.95*T-0.594*y;
   pts.push(x.toFixed(1)+','+y.toFixed(1));
  }
  var pl=document.createElementNS(ns,'polyline');
  pl.setAttribute('points',pts.join(' '));
  g.appendChild(pl);
 }
})();
</script>
</body></html>
